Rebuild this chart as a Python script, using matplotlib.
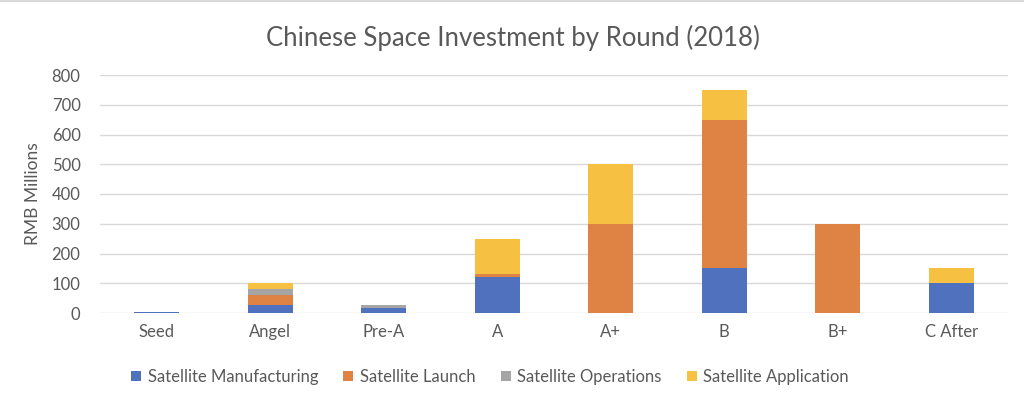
import matplotlib
matplotlib.use("Agg")
import matplotlib.pyplot as plt
import numpy as np

categories = ["Seed", "Angel", "Pre-A", "A", "A+", "B", "B+", "C After"]
manufacturing = [5, 28, 18, 120, 0, 150, 0, 100]
launch = [0, 34, 0, 10, 300, 500, 300, 0]
operations = [0, 20, 10, 0, 0, 0, 0, 0]
application = [0, 18, 0, 120, 200, 100, 0, 50]
series_names = ["Satellite Manufacturing", "Satellite Launch", "Satellite Operations", "Satellite Application"]
colors = ["#4F71BE", "#DE8344", "#A5A5A5", "#F6C142"]
yticks = [0, 100, 200, 300, 400, 500, 600, 700, 800]

plt.rcParams['font.family'] = ['Lato', 'DejaVu Sans']
text_color = "#595959"

fig = plt.figure(figsize=(10.24, 3.99), dpi=100)
ax = fig.add_axes([100/1024, 1 - 313/399, 908/1024, 238/399])

x = np.arange(len(categories))
bottom = np.zeros(len(categories))
for vals, name, c in zip([manufacturing, launch, operations, application], series_names, colors):
    ax.bar(x, vals, width=0.4, bottom=bottom, color=c, label=name, zorder=3)
    bottom += np.array(vals)

ax.set_xlim(-0.5, len(categories) - 0.5)
ax.set_ylim(0, 800)
ax.set_yticks(yticks)
ax.set_xticks(x)
ax.set_xticklabels(categories)
ax.grid(axis='y', color="#D9D9D9", linewidth=1, zorder=0)
for s in ax.spines.values():
    s.set_visible(False)
ax.tick_params(axis='both', length=0, labelsize=12, colors=text_color)
ax.tick_params(axis='y', pad=14)
ax.tick_params(axis='x', pad=8)
ax.set_ylabel("RMB Millions", fontsize=12.5, color=text_color, labelpad=8)

fig.text(513/1024, 1 - 38/399, "Chinese Space Investment by Round (2018)", ha='center', va='center',
         fontsize=18.5, color=text_color)

handles, labels = ax.get_legend_handles_labels()
fig.legend(handles, labels, loc='center', bbox_to_anchor=(490/1024, 1 - 377/399), ncol=4,
           frameon=False, fontsize=12, handlelength=0.6, handleheight=0.6, handletextpad=0.4,
           columnspacing=1.5, labelcolor=text_color)

fig.add_artist(plt.Line2D([0, 1], [0.998, 0.998], color="#D9D9D9", linewidth=1.5, transform=fig.transFigure))

fig.savefig("out.png", dpi=100)
